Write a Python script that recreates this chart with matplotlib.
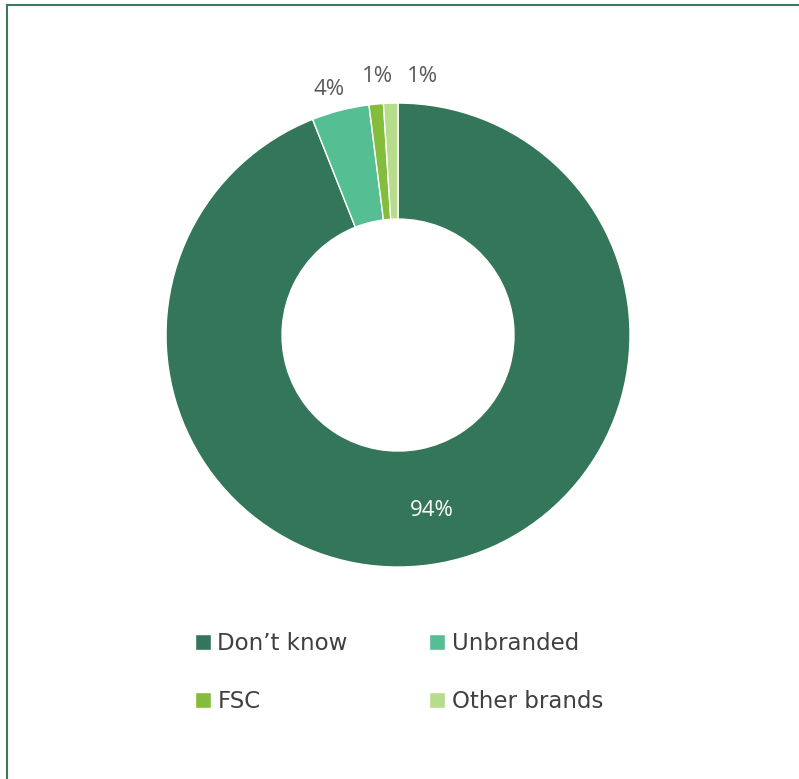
import matplotlib
matplotlib.use("Agg")
import matplotlib.pyplot as plt
import numpy as np
from matplotlib.lines import Line2D

# share of respondents by brand recognised
labels = ["Don\u2019t know", "Unbranded", "FSC", "Other brands"]
values = [94, 4, 1, 1]
colors = ["#34765A", "#55BE93", "#84BD3C", "#B6DC8C"]

fig = plt.figure(figsize=(7.99, 7.79), dpi=100)
ax = fig.add_axes([0.2078, 0.2721, 0.5807, 0.5956])

wedges, _ = ax.pie(
    values, colors=colors, startangle=90, counterclock=False, radius=1.0,
    wedgeprops=dict(width=0.5, edgecolor="white", linewidth=1.0),
)
ax.set_xlim(-1, 1)
ax.set_ylim(-1, 1)
ax.set_aspect("equal")
ax.axis("off")

# percentage labels: big slice inside the ring, small ones just outside
nudges = [(0.0, 0.0), (-0.02, -0.026), (0.017, 0.0), (0.14, -0.005)]
for w, v, (dx, dy) in zip(wedges, values, nudges):
    ang = np.deg2rad((w.theta1 + w.theta2) / 2)
    if v > 50:
        r, col = 0.77, "white"
    else:
        r, col = 1.12, "#595959"
    x, y = r * np.cos(ang) + dx, r * np.sin(ang) + dy
    ax.text(x, y, f"{v}%", ha="center", va="center", fontsize=16,
            color=col, family="Open Sans")

# legend filled row by row: two columns
order = [0, 2, 1, 3]
leg = fig.legend(
    [wedges[i] for i in order], [labels[i] for i in order],
    ncol=2, loc="upper left", bbox_to_anchor=(0.232, 0.2),
    frameon=False, fontsize=16.5, handlelength=0.7, handleheight=0.7,
    handletextpad=0.3, columnspacing=3.56, labelspacing=1.53,
    borderaxespad=0,
)
for t in leg.get_texts():
    t.set_color("#404040")

# outer frame, left and top edges
frame = "#3B7A5C"
fig.add_artist(Line2D([7 / 799, 7 / 799], [0, 1 - 5 / 779], color=frame,
                      lw=1.5, transform=fig.transFigure))
fig.add_artist(Line2D([7 / 799, 1], [1 - 5 / 779, 1 - 5 / 779], color=frame,
                      lw=1.5, transform=fig.transFigure))

fig.savefig("out.png", dpi=100)
